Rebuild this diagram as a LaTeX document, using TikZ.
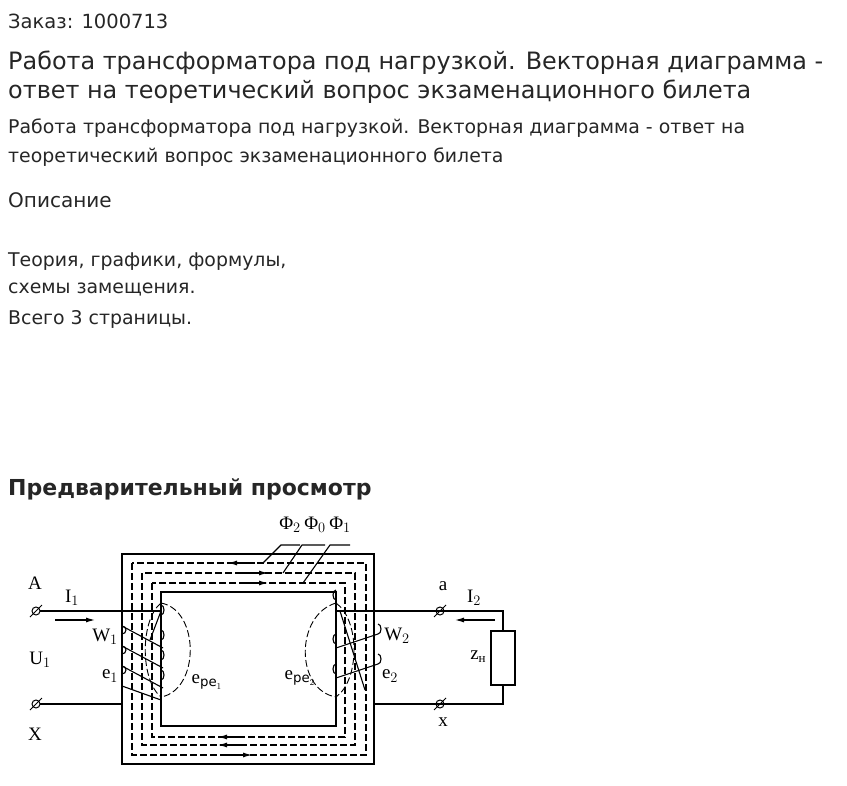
\documentclass[tikz,border=0pt]{standalone}
\usepackage{fontspec}
\setmainfont{DejaVu Sans}
\newfontfamily\dser{Liberation Serif}
\usetikzlibrary{arrows.meta}
\begin{document}
\begin{tikzpicture}[x=1pt,y=-1pt,
  txt/.style={anchor=west,inner sep=0pt,text=black!85},
  lab/.style={inner sep=0pt,font=\dser\fontsize{19}{19}\selectfont},
  core/.style={line width=1.4pt},
  flux/.style={dashed,dash pattern=on 7pt off 3pt,line width=1.1pt},
  wire/.style={line width=1.1pt},
  fa/.style={-{Latex[length=9pt,width=5pt]},line width=1.1pt},
  term/.pic={\draw[line width=1pt] (0,0) circle (4); \draw[line width=1pt] (-6,6)--(6,-6);}]
\useasboundingbox (0,0) rectangle (847,786);
\node[txt,font=\fontsize{19.5}{19.5}\selectfont] (order) at (8,21) {Заказ: 1000713};
\node[txt,font=\fontsize{23.9}{23.9}\selectfont] (t1) at (8,63) {Работа трансформатора под нагрузкой. Векторная диаграмма -};
\node[txt,font=\fontsize{23.9}{23.9}\selectfont] (t2) at (8,92) {ответ на теоретический вопрос экзаменационного билета};
\node[txt,font=\fontsize{18.9}{18.9}\selectfont] (b1) at (8,128) {Работа трансформатора под нагрузкой. Векторная диаграмма - ответ на};
\node[txt,font=\fontsize{18.9}{18.9}\selectfont] (b2) at (8,157) {теоретический вопрос экзаменационного билета};
\node[txt,font=\fontsize{20}{20}\selectfont] (d) at (8,200) {Описание};
\node[txt,font=\fontsize{18.9}{18.9}\selectfont] (p1) at (8,262) {Теория, графики, формулы,};
\node[txt,font=\fontsize{18.9}{18.9}\selectfont] (p2) at (8,290) {схемы замещения.};
\node[txt,font=\fontsize{18.9}{18.9}\selectfont] (p3) at (8,319) {Всего 3 страницы.};
\node[txt,font=\bfseries\fontsize{22}{22}\selectfont] (pv) at (8,489) {Предварительный просмотр};
% core
\draw[core] (122,554) rectangle (374,764);
\draw[core] (161,592) rectangle (336,726);
% flux
\draw[flux] (132,563) rectangle (366,755);
\draw[flux] (142,573) rectangle (355,745);
\draw[flux] (152,583) rectangle (345,737);
\draw[fa] (255,563)--(228,563);
\draw[fa] (240,573)--(268,573);
\draw[fa] (240,583)--(268,583);
\draw[fa] (245,737)--(218,737);
\draw[fa] (245,745)--(218,745);
\draw[fa] (225,755)--(252,755);
\node[lab] (f2) at (290,525) {Φ$_2$};
\node[lab] (f0) at (315,525) {Φ$_0$};
\node[lab] (f1) at (340,525) {Φ$_1$};
\draw[wire] (300,545)--(281,545)--(263,563);
\draw[wire] (325,545)--(302,545)--(283,573);
\draw[wire] (350,545)--(330,545)--(303,583);
% primary
\pic at (36,611) {term}; \pic at (36,704) {term};
\draw[wire] (40,611)--(161,611);
\draw[wire] (40,704)--(122,704);
\draw[fa] (55,620)--(95,620);
\node[lab] at (35,583) {A};
\node[lab] at (35,734) {X};
\node[lab] at (72,598) {I$_1$};
\node[lab] at (105,637) {W$_1$};
\node[lab] at (40,660) {U$_1$};
\node[lab] at (110,676) {e$_1$};
\foreach \y in {0,20,40}{
  \draw[wire] (122,626+\y) arc (-90:-270:-4 and 4);
  \draw[wire] (122,626+\y)--(163,648+\y);
  \draw[wire] (161,630+\y) arc (-90:90:3 and 5);
}
\draw[wire] (161,605) arc (-90:90:3 and 5);
\draw[wire] (122,686)--(161,700);
\draw[wire] (161,611)--(150,640);
\draw[flux,line width=0.9pt] (161,603) .. controls (200,610) and (200,690) .. (161,697);
\draw[flux,line width=0.9pt] (161,603) .. controls (140,620) and (140,680) .. (161,697);
\node[lab] at (207,682) {e$_{\mathrm{pe}_1}$};
% secondary
\pic at (440,611) {term}; \pic at (440,704) {term};
\draw[wire] (336,611)--(503,611)--(503,631);
\draw[wire] (503,685)--(503,704)--(374,704);
\draw[wire] (491,631) rectangle (515,685);
\draw[fa] (495,620)--(455,620);
\node[lab] at (443,586) {a};
\node[lab] at (443,722) {x};
\node[lab] at (474,598) {I$_2$};
\node[lab] at (397,636) {W$_2$};
\node[lab] at (478,657) {z\raisebox{-3pt}{\fontsize{13}{13}\selectfont н}};
\node[lab] at (390,676) {e$_2$};
\foreach \y in {0,30}{
  \draw[wire] (378,624+\y) arc (-90:90:3 and 5);
  \draw[wire] (336,648+\y)--(378,634+\y);
  \draw[wire] (336,644+\y) arc (90:270:3 and 5);
}
\draw[wire] (336,600) arc (90:270:3 and 5);
\draw[wire] (340,611)--(365,690);
\draw[flux,line width=0.9pt] (336,603) .. controls (295,615) and (295,690) .. (336,697);
\draw[flux,line width=0.9pt] (336,603) .. controls (360,620) and (360,680) .. (336,697);
\node[lab] at (300,678) {e$_{\mathrm{pe}_2}$};
\end{tikzpicture}
\end{document}
